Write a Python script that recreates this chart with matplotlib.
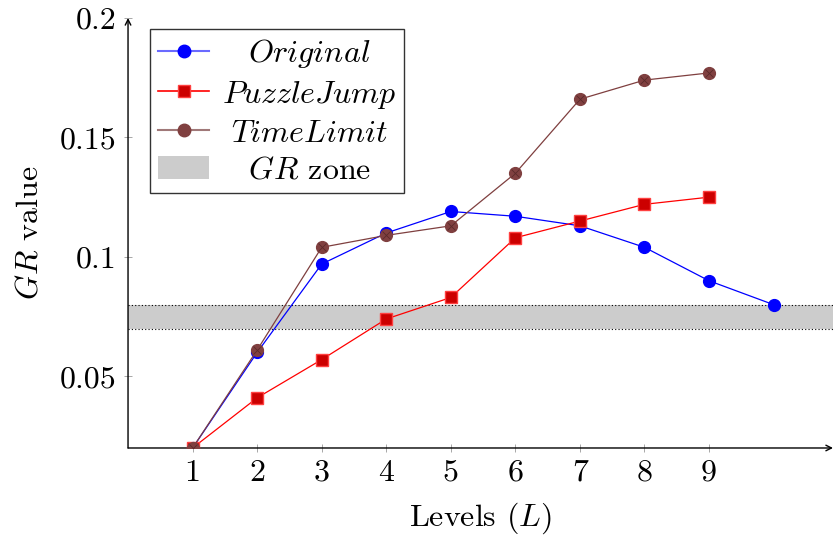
import matplotlib
matplotlib.use("Agg")
from matplotlib import pyplot as plt
from matplotlib.patches import Patch
from matplotlib.lines import Line2D
from matplotlib.transforms import Affine2D

levels = [1, 2, 3, 4, 5, 6, 7, 8, 9, 10]
original = [0.02, 0.06, 0.097, 0.11, 0.119, 0.117, 0.113, 0.104, 0.09, 0.08]
puzzle_levels = [1, 2, 3, 4, 5, 6, 7, 8, 9]
puzzle_jump = [0.02, 0.041, 0.057, 0.074, 0.083, 0.108, 0.115, 0.122, 0.125]
time_levels = [1, 2, 3, 4, 5, 6, 7, 8, 9]
time_limit = [0.02, 0.061, 0.104, 0.109, 0.113, 0.135, 0.166, 0.174, 0.177]
zone_low, zone_high = 0.07, 0.08
x_ticks = [1, 2, 3, 4, 5, 6, 7, 8, 9]
y_ticks = [0.05, 0.1, 0.15, 0.2]
y_tick_labels = ["0.05", "0.1", "0.15", "0.2"]

plt.rcParams["font.family"] = "serif"
plt.rcParams["font.serif"] = ["cmr10", "DejaVu Serif"]
plt.rcParams["mathtext.fontset"] = "cm"
plt.rcParams["axes.unicode_minus"] = False

fs = 23

fig = plt.figure(figsize=(8.33, 5.45), dpi=100)
ax = fig.add_axes([0.1537, 0.178, 0.8463, 0.789])

brown = "#7f3f3f"

# zone
ax.axhspan(zone_low, zone_high, color="#cccccc", lw=0, zorder=1)
ax.axhline(zone_low, color="black", ls=(0, (1, 2)), lw=0.8, zorder=1)
ax.axhline(zone_high, color="black", ls=(0, (1, 2)), lw=0.8, zorder=1)

ax.plot(levels, original, color="blue", lw=0.9, marker="o", ms=8.5,
        mfc="blue", mec="blue", zorder=3)
ax.plot(puzzle_levels, puzzle_jump, color="red", lw=0.9, marker="s", ms=8,
        mfc="#cc0000", mec="#ff4040", zorder=4)
ax.plot(time_levels, time_limit, color=brown, lw=0.9, marker="o", ms=8.5,
        mfc="#804040", mec="#804040", zorder=5)
ax.plot(time_levels, time_limit, ls="none", marker="x", ms=5.5, mew=0.6,
        color="#5a2a2a", zorder=6)

ax.set_xlim(0, 10.92)
ax.set_ylim(0.02, 0.2)
ax.set_xticks(x_ticks)
ax.set_xticklabels([str(v) for v in x_ticks])
ax.set_yticks(y_ticks)
ax.set_yticklabels(y_tick_labels)
ax.tick_params(axis="both", direction="inout", length=6, width=0.6,
               color="#999999", labelsize=fs, pad=5)

for s in ax.spines.values():
    s.set_visible(False)
ax.annotate("", xy=(1.0, 0), xytext=(0, 0), xycoords="axes fraction",
            arrowprops=dict(arrowstyle="->", lw=1.0, color="black",
                            shrinkA=0, shrinkB=0), annotation_clip=False)
ax.annotate("", xy=(0, 1.0), xytext=(0, 0), xycoords="axes fraction",
            arrowprops=dict(arrowstyle="->", lw=1.0, color="black",
                            shrinkA=0, shrinkB=0), annotation_clip=False)

ax.set_xlabel("Levels $(L)$", fontsize=fs, labelpad=10)
ax.set_ylabel("$GR$ value", fontsize=fs, labelpad=12)

handles = [
    Line2D([], [], color="#6a6aff", lw=1.5, marker="o", ms=9,
           mfc="blue", mec="blue"),
    Line2D([], [], color="red", lw=1.2, marker="s", ms=8,
           mfc="#cc0000", mec="#ff4040"),
    Line2D([], [], color="#a07878", lw=1.5, marker="o", ms=9,
           mfc="#804040", mec="#804040"),
    Patch(facecolor="#cccccc", edgecolor="none"),
]
labels = ["$Original$", "$PuzzleJump$", "$TimeLimit$", "$GR$ zone"]
leg = ax.legend(handles, labels, loc="upper left",
                bbox_to_anchor=(150 / 833, 1 - 29 / 545),
                bbox_transform=fig.transFigure, fontsize=fs,
                fancybox=False, framealpha=1, edgecolor="#333333",
                borderpad=0.25, labelspacing=0.27, handlelength=1.6,
                handletextpad=0.4, borderaxespad=0)
leg.get_frame().set_linewidth(1.0)

# centre legend texts in their column, like pgfplots
fig.canvas.draw()
r = fig.canvas.get_renderer()
texts = leg.get_texts()
widths = [t.get_window_extent(r).width for t in texts]
wmax = max(widths)
for t, w in zip(texts, widths):
    t.set_transform(t.get_transform() + Affine2D().translate((wmax - w) / 2, 0))

fig.savefig("out.png", dpi=100)
